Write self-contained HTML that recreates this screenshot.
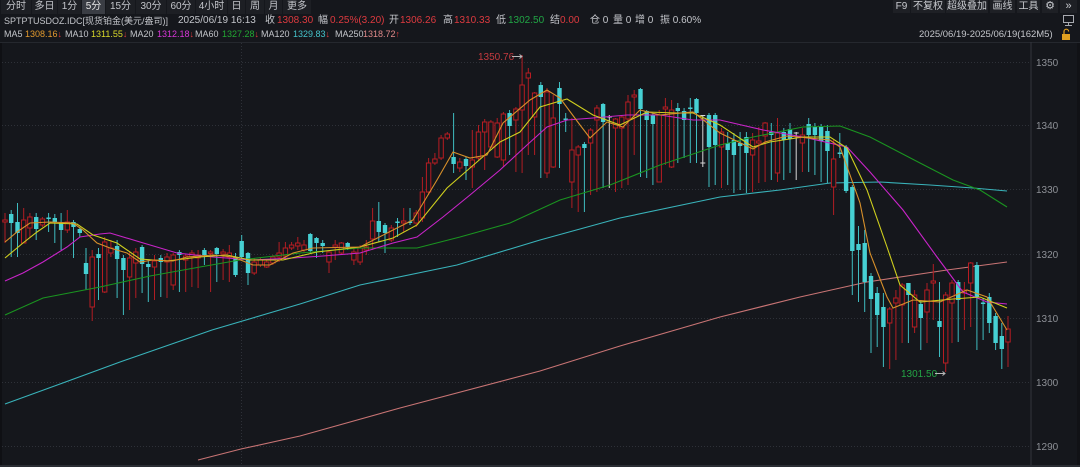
<!DOCTYPE html>
<html><head><meta charset="utf-8">
<style>
*{margin:0;padding:0;box-sizing:border-box}
html,body{width:1080px;height:467px;background:#15171c;overflow:hidden}
#c{position:relative;width:1080px;height:467px;background:#15171c;font-family:"Liberation Sans","Noto Sans CJK SC",sans-serif;font-size:10px;color:#c3c5ca}
.t{position:absolute;white-space:nowrap;line-height:12px}
.tab{position:absolute;top:0;height:14px;background:#1d1f24;color:#c3c5ca;text-align:center;line-height:14px;font-size:10px}
.sel{background:#3a3d44;color:#e6e6e6}
.r{color:#dd3a3f}.g{color:#21a545}
.m{font-size:9px}
.btn{position:absolute;top:0;height:13px;background:#1e2025;color:#c9cbd0;text-align:center;line-height:13px;font-size:10px}
</style></head><body><div id="c">
<!-- tabs -->
<div class="tab" style="left:1px;width:30px">分时</div>
<div class="tab" style="left:32px;width:25px">多日</div>
<div class="tab" style="left:58px;width:23px">1分</div>
<div class="tab sel" style="left:82px;width:23px">5分</div>
<div class="tab" style="left:106px;width:29px">15分</div>
<div class="tab" style="left:136px;width:30px">30分</div>
<div class="tab" style="left:167px;width:28px">60分</div>
<div class="tab" style="left:196px;width:31px">4小时</div>
<div class="tab" style="left:228px;width:17px">日</div>
<div class="tab" style="left:246px;width:18px">周</div>
<div class="tab" style="left:265px;width:17px">月</div>
<div class="tab" style="left:283px;width:28px">更多</div>
<!-- row 2 -->
<div class="t" style="left:4px;top:15px;font-size:9px">SPTPTUSDOZ.IDC[现货铂金(美元/盎司)]</div>
<div class="t" style="left:178px;top:15px">2025/06/19 16:13</div>
<div class="t" style="left:265px;top:15px">收</div>
<div class="t r" style="left:277px;top:15px">1308.30</div>
<div class="t" style="left:318px;top:15px">幅</div>
<div class="t r" style="left:330px;top:15px">0.25%(3.20)</div>
<div class="t" style="left:389px;top:15px">开</div>
<div class="t r" style="left:400px;top:15px">1306.26</div>
<div class="t" style="left:443px;top:15px">高</div>
<div class="t r" style="left:454px;top:15px">1310.33</div>
<div class="t" style="left:496px;top:15px">低</div>
<div class="t g" style="left:508px;top:15px">1302.50</div>
<div class="t" style="left:550px;top:15px">结</div>
<div class="t r" style="left:560px;top:15px">0.00</div>
<div class="t" style="left:590px;top:15px">仓 0</div>
<div class="t" style="left:613px;top:15px">量 0</div>
<div class="t" style="left:635px;top:15px">增 0</div>
<div class="t" style="left:660px;top:15px">振 0.60%</div>
<!-- row 3 -->
<div class="t m" style="left:4px;top:28px">MA5</div>
<div class="t m" style="left:25px;top:28px;color:#e39a2d">1308.16<span style="color:#dd3a3f">↓</span></div>
<div class="t m" style="left:65px;top:28px">MA10</div>
<div class="t m" style="left:91px;top:28px;color:#d9d92a">1311.55<span style="color:#dd3a3f">↓</span></div>
<div class="t m" style="left:130px;top:28px">MA20</div>
<div class="t m" style="left:157px;top:28px;color:#d836d8">1312.18<span style="color:#dd3a3f">↓</span></div>
<div class="t m" style="left:195px;top:28px">MA60</div>
<div class="t m" style="left:222px;top:28px;color:#22a832">1327.28<span style="color:#dd3a3f">↓</span></div>
<div class="t m" style="left:261px;top:28px">MA120</div>
<div class="t m" style="left:293px;top:28px;color:#45c3cb">1329.83<span style="color:#dd3a3f">↓</span></div>
<div class="t m" style="left:335px;top:28px">MA250</div>
<div class="t m" style="left:363px;top:28px;color:#e08a8a">1318.72<span style="color:#dd3a3f">↑</span></div>
<!-- right buttons -->
<div class="btn" style="left:893px;width:17px">F9</div>
<div class="btn" style="left:911px;width:34px">不复权</div>
<div class="btn" style="left:946px;width:42px">超级叠加</div>
<div class="btn" style="left:990px;width:25px">画线</div>
<div class="btn" style="left:1017px;width:23px">工具</div>
<div class="btn" style="left:1042px;width:16px;font-size:11px">⚙</div>
<div class="btn" style="left:1060px;width:17px;font-size:11px">»</div>
<div class="t" style="left:919px;top:29px;color:#c3c5ca;font-size:9.5px">2025/06/19-2025/06/19(162M5)</div>

<svg style="position:absolute;left:0;top:0" width="1080" height="467" viewBox="0 0 1080 467">
<!-- monitor icon -->
<rect x="1063.5" y="15.5" width="10" height="7" fill="none" stroke="#a8aab0" stroke-width="1"/>
<path d="M1068.5 22.5V25M1065 25.5h7" stroke="#a8aab0"/>
<!-- lock icon -->
<rect x="1062" y="34" width="8" height="6" fill="#e0a020"/>
<path d="M1064 34v-2.5a2.3 2.3 0 0 1 4.6 0" fill="none" stroke="#e0a020" stroke-width="1.2"/>
<!-- separators -->
<rect x="0" y="42" width="1080" height="1" fill="#25282e"/>
<rect x="0" y="43" width="2" height="424" fill="#0f1014"/>
<rect x="1030.5" y="42" width="1" height="425" fill="#33363d"/>
<rect x="1077" y="43" width="3" height="424" fill="#111216"/>
<rect x="0" y="465" width="1080" height="2" fill="#2a2d33"/>
<!-- grid -->
<g stroke="#2e3138" stroke-width="1" stroke-dasharray="1 2">
<path d="M2 62.5H1030M2 125.5H1030M2 189.5H1030M2 254.5H1030M2 318.5H1030M2 382.5H1030M2 446.5H1030"/>
<path d="M241.5 43V465"/>
</g>
<g fill="#8d9096" font-size="10" font-family="Liberation Sans, sans-serif">
<text x="1036" y="66">1350</text>
<text x="1036" y="129">1340</text>
<text x="1036" y="193">1330</text>
<text x="1036" y="258">1320</text>
<text x="1036" y="322">1310</text>
<text x="1036" y="386">1300</text>
<text x="1036" y="450">1290</text>
</g>
<!-- MA120 / MA250 (long) -->
<polyline fill="none" stroke="#39b3ba" stroke-width="1.1" points="5,404 60,384 120,362 212,330 300,304 360,285 457,265 540,240 620,218 720,197 780,190 830,183 880,182 930,185 973,188 1007,191"/>
<polyline fill="none" stroke="#c87474" stroke-width="1.1" points="198,460 241,449 300,436 400,408 540,371 620,346 720,317 800,297 867,282 947,270 1007,262"/>
<!-- red wicks -->
<path fill="none" stroke="#b11d23" stroke-width="1" d="M5 213V243M23.7 208V243M29.9 213V237M42.4 217V227M67.3 210V233M92.2 250V321M104.7 237V293M110.9 240V257M129.6 252V310M135.8 248V298M154.5 255V300M167 253V298M173.2 253V290M185.7 254V292M191.9 250V287M198.1 250V288M210.6 250V292M223.1 249V280M229.3 245V282M254.2 258V275M260.4 258V267M266.7 260V268M272.9 255V265M279.1 242V262M285.4 242V260M291.6 242V250M297.8 237V250M304 240V253M329 250V273M335.2 240V260M341.4 242V255M353.9 247V265M360.1 245V265M366.3 240V255M372.6 208V250M391.3 225V242M403.7 208V232M416.2 210V227M422.4 177V222M428.6 158V195M434.9 153V165M441.1 135V160M447.3 132V140M459.8 158V172M472.3 130V188M478.5 125V160M484.7 119V170M490.9 120V148M497.2 118V158M503.4 112V167M515.9 107V172M522.1 55V173M528.3 68V155M534.6 92V155M547 88V178M553.2 95V168M571.9 118V208M578.2 145V212M590.6 128V195M596.9 105V192M615.5 118V192M621.8 115V188M628 95V185M634.2 90V155M659.2 110V182M665.4 98V165M671.6 100V168M721.5 128V188M752.6 133V192M758.8 127V183M765.1 122V182M777.5 118V182M802.4 128V172M833.6 140V215M889.7 307V369M895.9 290V360M902.1 283V343M914.6 290V333M927 283V343M933.3 264V320M945.7 292V372M952 280V343M964.4 282V330M970.7 262V327M1008 316V367"/>
<!-- cyan wicks -->
<path fill="none" stroke="#3fbcc0" stroke-width="1" d="M11.2 210V257M17.5 203V257M36.2 213V240M48.6 213V232M54.8 214V243M61.1 213V250M73.5 220V258M79.8 227V237M86 248V290M98.5 248V300M117.1 240V298M123.4 255V315M142.1 245V293M148.3 260V302M160.8 255V297M179.4 250V292M204.4 248V265M216.8 247V282M235.5 253V277M241.7 235V260M248 252V285M310.3 233V253M316.5 237V258M322.7 240V253M347.7 242V250M378.8 202V242M385 223V253M397.5 218V237M410 208V225M453.6 113V173M466 157V180M509.6 110V155M540.8 82V178M559.5 82V168M565.7 113V132M584.4 142V212M603.1 103V188M640.5 88V177M646.7 110V178M652.9 113V185M677.8 103V163M684.1 108V158M690.3 98V163M696.5 98V163M709 113V187M715.2 113V185M727.7 132V185M733.9 133V193M740.1 132V190M746.4 132V193M771.3 123V180M783.8 128V180M790 123V173M808.7 118V172M814.9 123V175M821.1 124V182M827.4 125V183M839.8 133V158M846.1 145V193M852.3 185V295M858.5 226V302M864.7 230V312M871 273V353M877.2 287V347M883.4 293V367M908.4 283V343M920.8 300V350M939.5 282V357M958.2 280V342M976.9 262V350M983.1 298V340M989.3 293V333M995.6 313V350M1001.8 323V369"/>
<!-- white doji -->
<path fill="none" stroke="#d6d6d6" stroke-width="1" d="M609.3 115V188M606.8 117H611.8M702.8 115V167M700.3 115.5H705.3M700.3 163H705.3M796.2 132V180M793.7 133H798.7"/>
<!-- red hollow bodies -->
<path fill="#15171c" stroke="#b81c22" stroke-width="1" d="M2.8 220h4.4V222h-4.4zM21.5 220h4.4V243h-4.4zM27.7 217h4.4V228h-4.4zM40.2 219h4.4V225h-4.4zM65.1 222h4.4V230h-4.4zM90 257h4.4V307h-4.4zM102.5 242h4.4V292h-4.4zM108.7 248h4.4V253h-4.4zM127.4 258h4.4V277h-4.4zM133.6 252h4.4V263h-4.4zM152.3 261h4.4V267h-4.4zM164.8 257h4.4V262h-4.4zM171 255h4.4V285h-4.4zM183.5 256h4.4V260h-4.4zM189.7 253h4.4V257h-4.4zM195.9 255h4.4V258h-4.4zM208.4 252h4.4V253.5h-4.4zM220.9 252h4.4V254h-4.4zM227.1 253h4.4V257h-4.4zM252 262h4.4V273h-4.4zM258.2 260h4.4V265h-4.4zM264.5 262h4.4V267h-4.4zM270.7 257h4.4V263h-4.4zM276.9 253h4.4V257h-4.4zM283.2 248h4.4V256h-4.4zM289.4 245h4.4V248h-4.4zM295.6 243h4.4V246h-4.4zM301.8 245h4.4V250h-4.4zM326.8 252h4.4V262h-4.4zM333 245h4.4V247h-4.4zM339.2 243h4.4V253h-4.4zM351.7 252h4.4V260h-4.4zM357.9 248h4.4V262h-4.4zM364.1 247h4.4V250h-4.4zM370.4 221h4.4V239h-4.4zM389.1 228h4.4V240h-4.4zM401.5 221h4.4V223h-4.4zM414 213h4.4V223h-4.4zM420.2 192h4.4V218h-4.4zM426.4 163h4.4V192h-4.4zM432.7 159h4.4V163h-4.4zM438.9 138h4.4V158h-4.4zM445.1 134h4.4V138h-4.4zM457.6 162h4.4V168h-4.4zM470.1 160h4.4V167h-4.4zM476.3 132h4.4V158h-4.4zM482.5 122h4.4V132h-4.4zM488.7 122h4.4V147h-4.4zM495 123h4.4V157h-4.4zM501.2 114h4.4V160h-4.4zM513.7 109h4.4V120h-4.4zM519.9 85h4.4V110h-4.4zM526.1 73h4.4V78h-4.4zM532.4 93h4.4V117h-4.4zM544.8 92h4.4V173h-4.4zM551 118h4.4V167h-4.4zM569.7 150h4.4V182h-4.4zM576 147h4.4V155h-4.4zM588.4 130h4.4V143h-4.4zM594.7 108h4.4V120h-4.4zM613.3 119h4.4V128h-4.4zM619.6 117h4.4V128h-4.4zM625.8 102h4.4V119h-4.4zM632 95h4.4V97h-4.4zM657 115h4.4V182h-4.4zM663.2 107h4.4V109h-4.4zM669.4 110h4.4V167h-4.4zM719.3 132h4.4V147h-4.4zM750.4 140h4.4V155h-4.4zM756.6 141h4.4V143h-4.4zM762.9 123h4.4V136h-4.4zM775.3 133h4.4V173h-4.4zM800.2 135h4.4V143h-4.4zM831.4 159h4.4V187h-4.4zM887.5 309h4.4V323h-4.4zM893.7 298h4.4V303h-4.4zM899.9 285h4.4V305h-4.4zM912.4 295h4.4V327h-4.4zM924.8 290h4.4V312h-4.4zM931.1 281h4.4V283h-4.4zM943.5 295h4.4V363h-4.4zM949.8 283h4.4V303h-4.4zM962.2 290h4.4V293h-4.4zM968.5 263h4.4V283h-4.4zM1005.8 329h4.4V342h-4.4z"/>
<!-- cyan bodies -->
<path fill="#46d0d3" d="M9 214h4.4v9h-4.4zM15.3 222h4.4v11h-4.4zM34 217h4.4v12h-4.4zM46.4 217.5h4.4v1.5h-4.4zM52.6 218h4.4v4h-4.4zM58.9 223h4.4v7h-4.4zM71.3 222h4.4v5h-4.4zM77.6 229h4.4v4h-4.4zM83.8 263h4.4v11h-4.4zM96.3 254h4.4v4h-4.4zM114.9 246h4.4v13h-4.4zM121.2 258h4.4v12h-4.4zM139.9 247h4.4v17h-4.4zM146.1 264h4.4v3h-4.4zM158.6 258h4.4v4h-4.4zM177.2 252h4.4v3h-4.4zM202.2 250h4.4v5h-4.4zM214.6 248h4.4v6h-4.4zM233.3 257h4.4v18h-4.4zM239.5 241h4.4v16h-4.4zM245.8 253h4.4v20h-4.4zM308.1 234h4.4v17h-4.4zM314.3 238h4.4v5h-4.4zM320.5 243h4.4v3h-4.4zM345.5 243h4.4v4h-4.4zM376.6 221h4.4v11h-4.4zM382.8 225h4.4v8h-4.4zM395.3 221.5h4.4v1.5h-4.4zM407.8 221.5h4.4v1.5h-4.4zM451.4 157h4.4v7h-4.4zM463.8 159h4.4v7h-4.4zM507.4 113h4.4v13h-4.4zM538.6 85h4.4v12h-4.4zM557.3 88h4.4v16h-4.4zM563.5 118.5h4.4v1.5h-4.4zM582.2 144h4.4v4h-4.4zM600.9 104h4.4v18h-4.4zM638.3 89h4.4v20h-4.4zM644.5 111h4.4v9h-4.4zM650.7 115h4.4v9h-4.4zM675.6 108h4.4v3h-4.4zM681.9 111h4.4v9h-4.4zM688.1 107.5h4.4v1.5h-4.4zM694.3 99h4.4v14h-4.4zM706.8 115h4.4v32h-4.4zM713 115h4.4v30h-4.4zM725.5 143h4.4v7h-4.4zM731.7 140h4.4v15h-4.4zM737.9 143h4.4v3h-4.4zM744.2 137h4.4v16h-4.4zM769.1 132h4.4v3h-4.4zM781.6 132h4.4v8h-4.4zM787.8 129h4.4v10h-4.4zM806.5 124h4.4v11h-4.4zM812.7 127h4.4v8h-4.4zM818.9 127h4.4v14h-4.4zM825.2 131h4.4v20h-4.4zM837.6 152.5h4.4v1.5h-4.4zM843.9 147h4.4v44h-4.4zM850.1 187h4.4v64h-4.4zM856.3 244h4.4v6h-4.4zM862.5 243h4.4v39h-4.4zM868.8 276h4.4v23h-4.4zM875 293h4.4v22h-4.4zM881.2 307h4.4v20h-4.4zM906.2 283h4.4v12h-4.4zM918.6 304h4.4v14h-4.4zM937.3 321h4.4v6h-4.4zM956 282h4.4v18h-4.4zM974.7 265h4.4v32h-4.4zM980.9 302.5h4.4v1.5h-4.4zM987.1 297h4.4v26h-4.4zM993.4 316h4.4v27h-4.4zM999.6 336h4.4v13h-4.4z"/>
<!-- MA60 -->
<polyline fill="none" stroke="#1a9420" stroke-width="1.1" points="5,315 43,298 100,287 150,276 200,267 240,260 300,253 360,248 417,248 460,237 510,223 560,200 610,185 660,165 720,145 753,137 803,127 840,126 870,137 920,163 953,180 980,190 1007,207"/>
<!-- MA20 -->
<polyline fill="none" stroke="#c824c8" stroke-width="1.1" points="5,281 23,273 43,262 67,247 80,237 100,234 110,233 140,242 177,253 213,257 253,260 293,258 323,256 360,253 393,243 417,237 443,217 470,195 500,170 527,145 547,127 567,120 593,118 627,115 660,115 693,120 720,120 763,130 803,137 847,147 870,172 903,210 937,257 963,292 987,302 1007,304"/>
<!-- MA10 -->
<polyline fill="none" stroke="#cfcf1e" stroke-width="1.1" points="5,258 23,243 37,232 50,223 77,224 93,235 117,243 140,259 167,261 200,257 227,255 250,260 283,260 317,252 360,247 393,238 417,225 447,188 470,168 500,142 520,132 540,107 567,99 593,115 620,125 647,112 677,113 693,113 720,125 753,147 770,142 803,137 830,137 847,148 867,190 887,247 900,285 920,302 953,299 980,297 1007,308"/>
<!-- MA5 -->
<polyline fill="none" stroke="#d8902a" stroke-width="1.1" points="5,242 17,232 30,223 50,222 73,223 83,230 97,243 110,248 127,253 140,262 153,260 173,261 187,257 213,255 233,257 253,265 270,265 293,253 313,248 360,247 393,230 413,220 437,180 453,152 470,158 487,155 503,123 530,100 547,90 560,98 580,125 590,138 607,122 623,127 640,110 660,115 693,112 720,133 753,149 765,142 787,136 830,140 840,147 860,203 870,253 887,297 893,308 913,300 940,302 967,290 987,297 1007,330"/>
<!-- annotations -->
<text x="478" y="60" font-size="10" fill="#c43a3f" font-family="Liberation Sans, sans-serif">1350.76</text>
<path d="M512 56.5H522M519.5 54.5l2.5 2 -2.5 2" fill="none" stroke="#b8b8b8" stroke-width="1"/>
<text x="901" y="377" font-size="10" fill="#23a545" font-family="Liberation Sans, sans-serif">1301.50</text>
<path d="M935 373.5H945M942.5 371.5l2.5 2 -2.5 2" fill="none" stroke="#b8b8b8" stroke-width="1"/>
</svg>
</div></body></html>
